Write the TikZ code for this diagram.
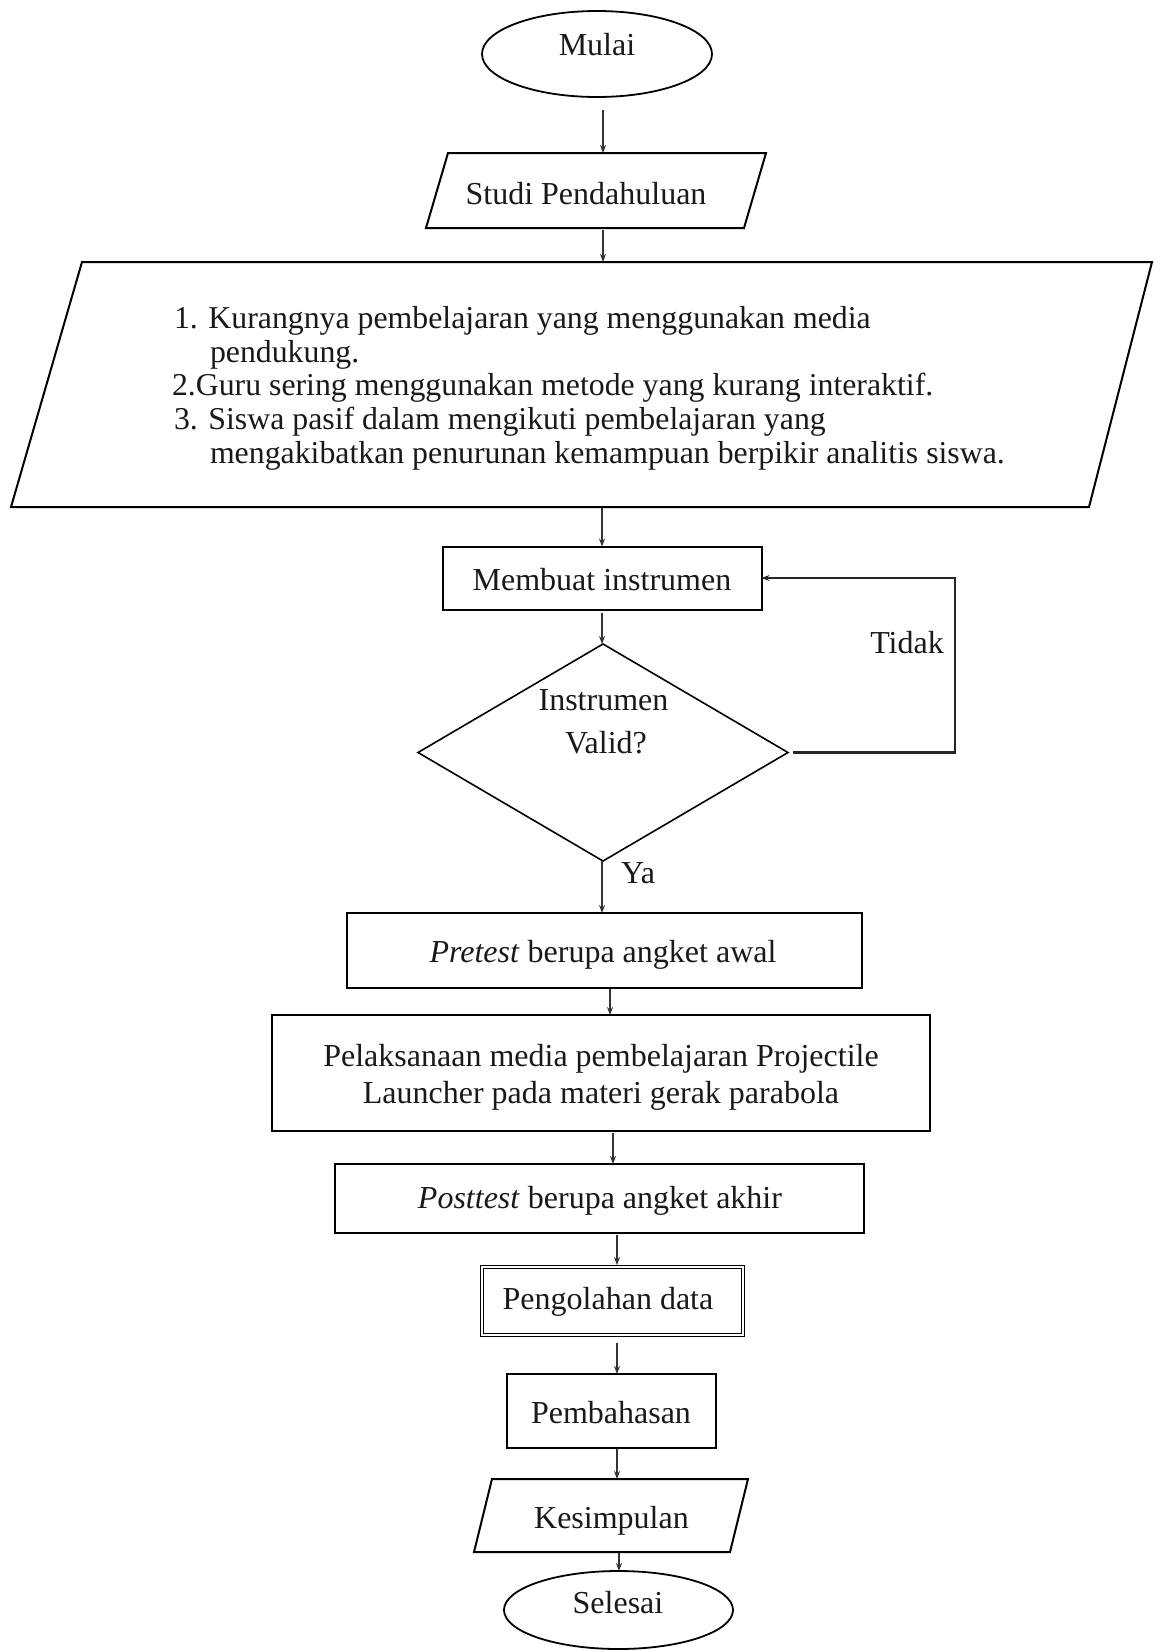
\documentclass[tikz,border=0pt]{standalone}
\usepackage{fontspec}
\setmainfont{Liberation Serif}
\usetikzlibrary{shapes.geometric,arrows.meta,calc}
\newcommand\myfs{\fontsize{32}{38}\selectfont}
\newcommand\mybigfs{\fontsize{31.8}{38}\selectfont}
\begin{document}
\begin{tikzpicture}[x=1pt,y=-1pt,
  every node/.style={inner sep=0pt, outer sep=0pt},
  txt/.style={font=\myfs, anchor=base, text=black!90},
  ltxt/.style={font=\mybigfs, anchor=base west, text=black!90},
  ghost/.style={rectangle, draw=none},
  box/.style={rectangle, draw=black, line width=2pt},
  dbox/.style={rectangle, draw=black, line width=1.4pt, double, double distance=2pt},
  term/.style={ellipse, draw=black, line width=1.8pt},
  dec/.style={diamond, draw=black, line width=1.6pt},
  para/.style={draw=black, line width=2pt, line join=miter},
  arr/.style={draw=black!80, line width=2.2pt, -{Stealth[length=8pt,width=6pt]}},
  loop/.style={draw=black!85, line width=2.6pt, -{Stealth[length=8pt,width=6pt]}}
]
\useasboundingbox (0,0) rectangle (1154,1650);
\fill[white] (0,0) rectangle (1154,1650);

% Mulai
\node[term, minimum width=230pt, minimum height=86pt] (mulai) at (597,54) {};
\node[txt] (mulaitxt) at (597,55) {Mulai};

% Studi Pendahuluan
\node[ghost, minimum width=318pt, minimum height=75pt] (studi) at (596,190.5) {};
\draw[para] ($(studi.north west)+(11,0)$) -- ($(studi.north east)+(11,0)$)
  -- ($(studi.south east)+(-11,0)$) -- ($(studi.south west)+(-11,0)$) -- cycle;
\node[txt] (studitxt) at (586,204) {Studi Pendahuluan};

% Problem parallelogram
\node[ghost, minimum width=1074pt, minimum height=245pt] (prob) at (583.5,384.5) {};
\draw[para] ($(prob.north west)+(35.5,0)$) -- ($(prob.north east)+(31.5,0)$)
  -- ($(prob.south east)+(-31.5,0)$) -- ($(prob.south west)+(-35.5,0)$) -- cycle;
\node[ltxt] (l1) at (174,328) {1. Kurangnya pembelajaran yang menggunakan media};
\node[ltxt] (l2) at (210,362) {pendukung.};
\node[ltxt] (l3) at (172,395) {2.Guru sering menggunakan metode yang kurang interaktif.};
\node[ltxt] (l4) at (174,429) {3. Siswa pasif dalam mengikuti pembelajaran yang};
\node[ltxt] (l5) at (210,463) {mengakibatkan penurunan kemampuan berpikir analitis siswa.};

% Membuat instrumen
\node[box, minimum width=319pt, minimum height=63pt] (membuat) at (602,578) {};
\node[txt] (membuattxt) at (602,590) {Membuat instrumen};

% Decision
\node[dec, minimum width=370pt, minimum height=217pt] (dia) at (603,752.5) {};
\node[txt] (diatxt1) at (603.5,710) {Instrumen};
\node[txt] (diatxt2) at (606,753) {Valid?};
\coordinate (tk) at (955,578);
\node[txt] (tidak) at (907,653) {Tidak};
\node[ltxt, font=\myfs] (ya) at (621,883) {Ya};

% Pretest
\node[box, minimum width=515pt, minimum height=75pt] (pre) at (604.5,950.5) {};
\node[txt] (pretxt) at (603,962) {\textit{Pretest} berupa angket awal};

% Pelaksanaan
\node[box, minimum width=658pt, minimum height=116pt] (pel) at (601,1073) {};
\node[txt] (peltxt1) at (601,1066) {Pelaksanaan media pembelajaran Projectile};
\node[txt] (peltxt2) at (601,1103) {Launcher pada materi gerak parabola};

% Posttest
\node[box, minimum width=529pt, minimum height=69pt] (post) at (599.5,1198.5) {};
\node[txt] (posttxt) at (600,1208) {\textit{Posttest} berupa angket akhir};

% Pengolahan data
\node[dbox, minimum width=261pt, minimum height=68pt] (peng) at (612.5,1301) {};
\node[txt] (pengtxt) at (608,1309) {Pengolahan data};

% Pembahasan
\node[box, minimum width=209pt, minimum height=74pt] (pemb) at (611.5,1411) {};
\node[txt] (pembtxt) at (611,1423) {Pembahasan};

% Kesimpulan
\node[ghost, minimum width=256pt, minimum height=73pt] (kes) at (611,1515.5) {};
\draw[para] ($(kes.north west)+(9,0)$) -- ($(kes.north east)+(9,0)$)
  -- ($(kes.south east)+(-9,0)$) -- ($(kes.south west)+(-9,0)$) -- cycle;
\node[txt] (kestxt) at (611.5,1528) {Kesimpulan};

% Selesai
\node[term, minimum width=229pt, minimum height=78pt] (sel) at (618.5,1610) {};
\node[txt] (seltxt) at (618,1613) {Selesai};

% Connectors
\draw[arr] ($(mulai.south)+(6,13)$) -- ($(studi.north)+(7,0)$);
\draw[arr] ($(studi.south)+(7,2)$) -- ($(prob.north)+(19.5,0)$);
\draw[arr] ($(prob.south)+(18.5,1)$) -- (membuat.north);
\draw[arr] ($(membuat.south)+(0,3)$) -- ($(dia.north)+(-1,0)$);
\draw[arr] ($(dia.south)+(-1,0)$) -- ($(pre.north)+(-2.5,0)$);
\draw[arr] ($(pre.south)+(5.5,1)$) -- ($(pel.north)+(9,0)$);
\draw[arr] ($(pel.south)+(12,2)$) -- ($(post.north)+(13.5,0)$);
\draw[arr] ($(post.south)+(17.5,2)$) -- ($(peng.north)+(4.5,-2)$);
\draw[arr] ($(peng.south)+(4.5,8)$) -- ($(pemb.north)+(5.5,0)$);
\draw[arr] ($(pemb.south)+(5.5,1)$) -- ($(kes.north)+(6,0)$);
\draw[arr] ($(kes.south)+(8,1)$) -- ($(sel.north)+(0.5,0)$);
\draw[loop] ($(dia.east)+(5,0)$) -- (dia.east -| tk) -- (tk) -- (membuat.east);
\end{tikzpicture}
\end{document}
